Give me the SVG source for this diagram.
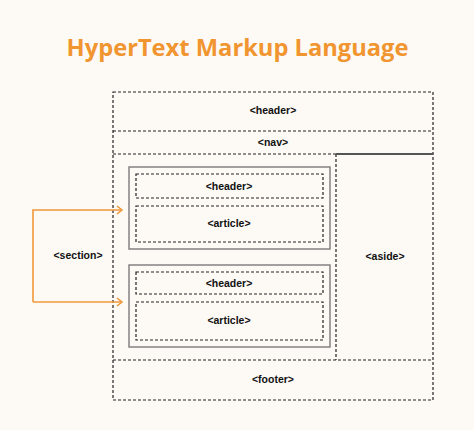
<svg xmlns="http://www.w3.org/2000/svg" width="474" height="430" viewBox="0 0 474 430">
<defs>
<style>
.d{fill:none;stroke:#222;stroke-width:1.2;stroke-dasharray:3 2}
.g{fill:none;stroke:#7a7a7a;stroke-width:1.4}
.s{fill:none;stroke:#555;stroke-width:2}
.t{font-family:"Liberation Sans",Arial,sans-serif;font-weight:bold;font-size:10.5px;fill:#111;text-anchor:middle;dominant-baseline:central}
.c{fill:none;stroke:#F0983A;stroke-width:1.6}
</style>
<marker id="ah" markerWidth="10" markerHeight="10" refX="7" refY="5" orient="auto" markerUnits="userSpaceOnUse">
<path d="M2,1 L7,5 L2,9" fill="none" stroke="#F0983A" stroke-width="1.6"/>
</marker>
</defs>
<rect width="474" height="430" fill="#FDFAF6"/>
<text x="237.5" y="47" font-family="'Open Sans',sans-serif" font-weight="bold" font-size="23.7" fill="#F0952F" text-anchor="middle" dominant-baseline="central">HyperText Markup Language</text>
<g id="page">
<rect class="d" x="113" y="92" width="320" height="308"/>
</g>
<g id="header">
<line class="d" x1="113" y1="131" x2="433" y2="131"/>
<text class="t" x="273" y="110">&lt;header&gt;</text>
</g>
<g id="nav">
<line class="d" x1="113" y1="154" x2="336" y2="154"/>
<text class="t" x="273" y="142">&lt;nav&gt;</text>
</g>
<g id="section">
<line class="d" x1="336" y1="154" x2="336" y2="360"/>
<text class="t" x="78" y="255">&lt;section&gt;</text>
</g>
<g id="aside">
<line class="s" x1="336" y1="154" x2="433" y2="154"/>
<text class="t" x="385" y="256">&lt;aside&gt;</text>
</g>
<g id="footer">
<line class="d" x1="113" y1="360" x2="433" y2="360"/>
<text class="t" x="273" y="379">&lt;footer&gt;</text>
</g>
<g id="article-box-1">
<rect class="g" x="129" y="167" width="201" height="82"/>
</g>
<g id="article-header-1">
<rect class="d" x="136" y="174" width="187" height="24"/>
<text class="t" x="229" y="186">&lt;header&gt;</text>
</g>
<g id="article-1">
<rect class="d" x="136" y="206" width="187" height="36"/>
<text class="t" x="229" y="223">&lt;article&gt;</text>
</g>
<g id="article-box-2">
<rect class="g" x="129" y="265" width="201" height="82"/>
</g>
<g id="article-header-2">
<rect class="d" x="136" y="272" width="187" height="22"/>
<text class="t" x="229" y="283">&lt;header&gt;</text>
</g>
<g id="article-2">
<rect class="d" x="136" y="302" width="187" height="38"/>
<text class="t" x="229" y="320">&lt;article&gt;</text>
</g>
<g id="connectors">
<path class="c" d="M33,302 L33,210 L122,210" marker-end="url(#ah)"/>
<path class="c" d="M33,302 L122,302" marker-end="url(#ah)"/>
</g>
</svg>
